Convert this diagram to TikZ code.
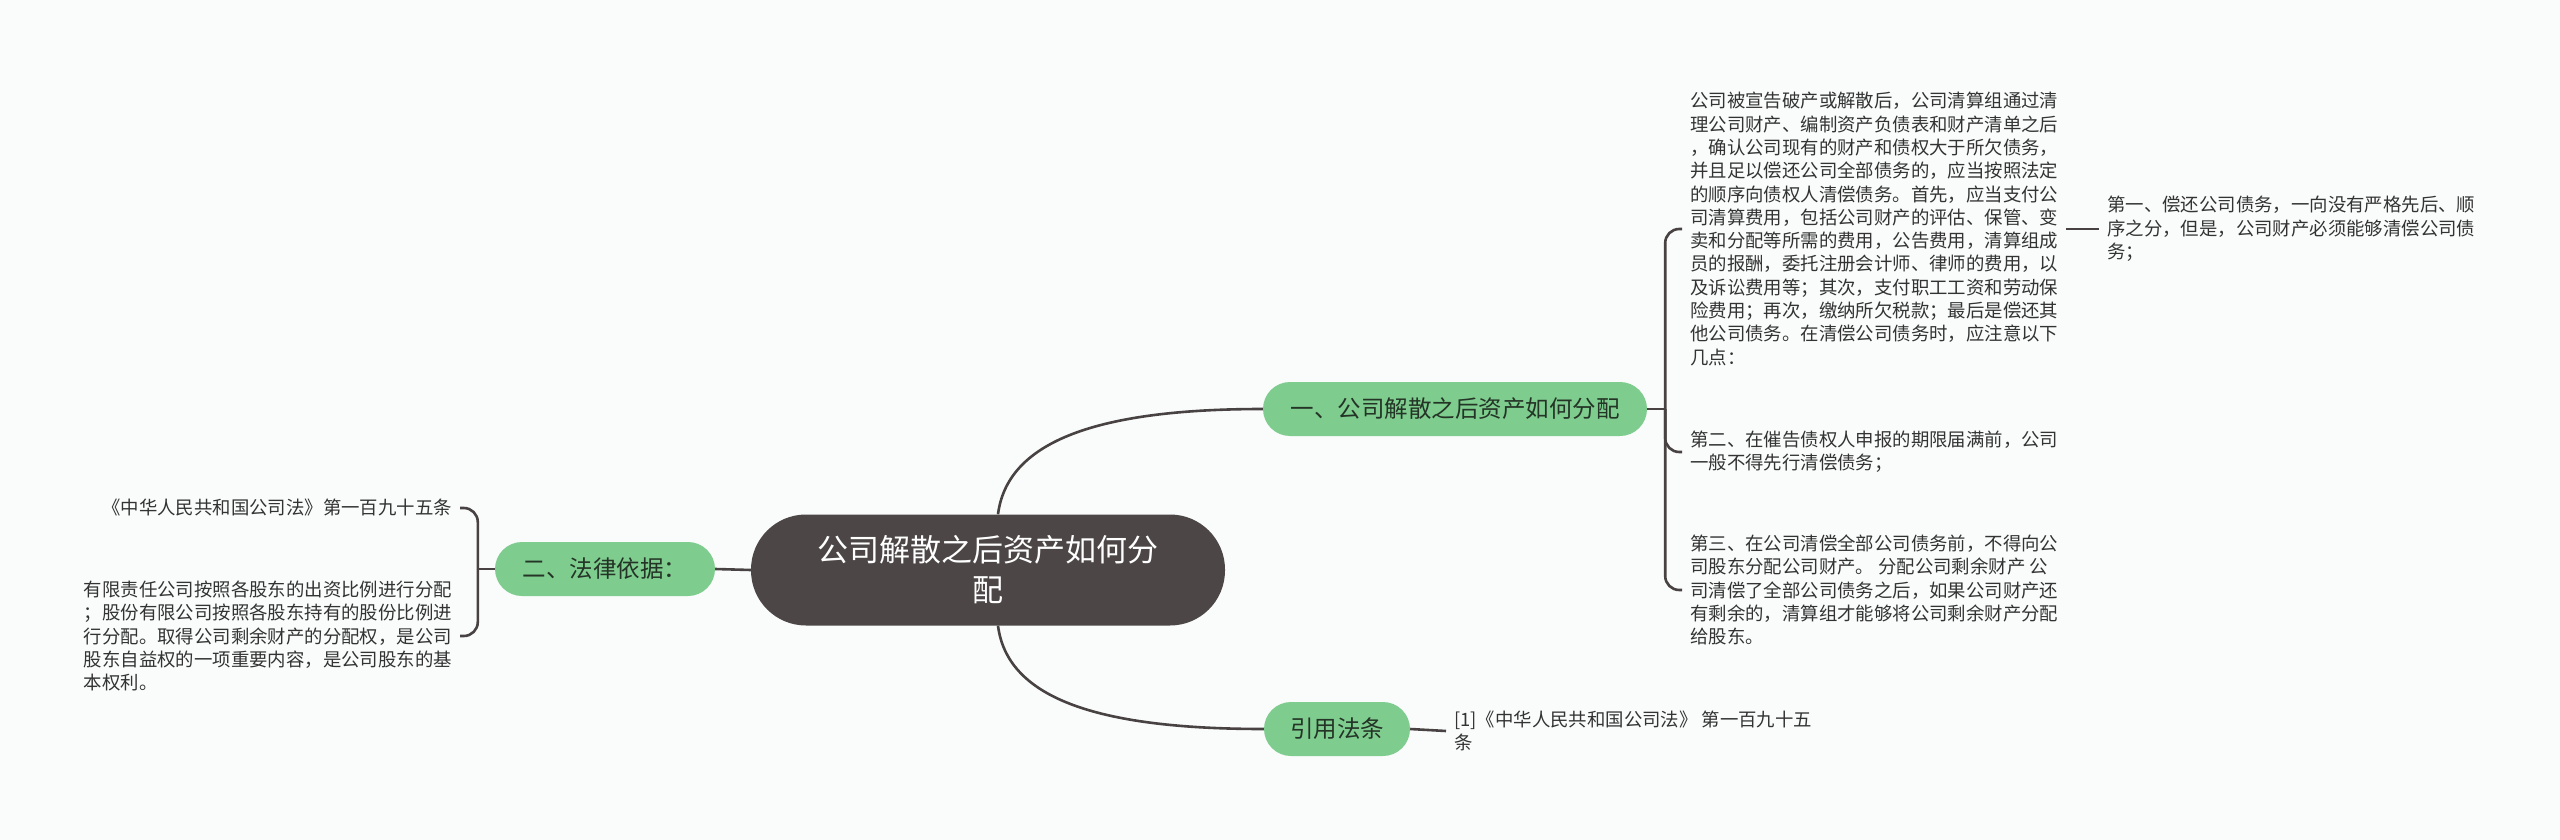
\documentclass[tikz,border=0pt]{standalone}
\usepackage{fontspec}
\setmainfont{Noto Sans CJK SC}

\definecolor{bgcol}{RGB}{250,252,252}
\definecolor{linecol}{RGB}{72,66,66}
\definecolor{rootcol}{RGB}{76,70,70}
\definecolor{greencol}{RGB}{126,204,142}
\definecolor{greentext}{RGB}{36,52,38}
\definecolor{leaftext}{RGB}{51,51,51}

\begin{document}
\begin{tikzpicture}[x=1pt, y=-1pt,
        edge/.style={draw=linecol, line width=2.6pt},
        root/.style={fill=rootcol, text=white, rounded corners=55pt, minimum width=474pt, minimum height=111pt, inner sep=0pt, align=center, font=\fontsize{31}{40}\selectfont},
        topic/.style={fill=greencol, text=greentext, rounded corners=27pt, minimum height=54pt, inner sep=0pt, font=\fontsize{23.5}{28}\selectfont},
        leaf/.style={text=leaftext, align=left, inner xsep=8pt, inner ysep=0pt, font=\fontsize{18.4}{23.3}\selectfont}]
        \def \Rx {1682};
        \def \Lx {460};

        % фон
        \useasboundingbox ( 0, 0 ) rectangle ( 2560, 840 );
        \fill [bgcol] ( 0, 0 ) rectangle ( 2560, 840 );

        % центр
        \node [root] (root) at ( 988, 570 ) {公司解散之后资产如何分\\配};

        % ветви
        \node [topic, minimum width=384pt] (t1) at ( 1455, 409 ) {一、公司解散之后资产如何分配};
        \node [topic, minimum width=220pt] (t2) at ( 605, 569 ) {二、法律依据：};
        \node [topic, minimum width=146pt] (t3) at ( 1337, 729 ) {引用法条};

        % листья справа
        \node [leaf, anchor=west] (l1) at ( \Rx, 229 ) {公司被宣告破产或解散后，公司清算组通过清\\
            理公司财产、编制资产负债表和财产清单之后\\
            ，确认公司现有的财产和债权大于所欠债务，\\
            并且足以偿还公司全部债务的，应当按照法定\\
            的顺序向债权人清偿债务。首先，应当支付公\\
            司清算费用，包括公司财产的评估、保管、变\\
            卖和分配等所需的费用，公告费用，清算组成\\
            员的报酬，委托注册会计师、律师的费用，以\\
            及诉讼费用等；其次，支付职工工资和劳动保\\
            险费用；再次，缴纳所欠税款；最后是偿还其\\
            他公司债务。在清偿公司债务时，应注意以下\\
            几点：};
        \node [leaf, anchor=west] (l1a) at ( 2099, 229 ) {第一、偿还公司债务，一向没有严格先后、顺\\
            序之分，但是，公司财产必须能够清偿公司债\\
            务；};
        \node [leaf, anchor=west] (l2) at ( \Rx, 452 ) {第二、在催告债权人申报的期限届满前，公司\\
            一般不得先行清偿债务；};
        \node [leaf, anchor=west] (l3) at ( \Rx, 590 ) {第三、在公司清偿全部公司债务前，不得向公\\
            司股东分配公司财产。 分配公司剩余财产 公\\
            司清偿了全部公司债务之后，如果公司财产还\\
            有剩余的，清算组才能够将公司剩余财产分配\\
            给股东。};
        \node [leaf, anchor=west] (cite) at ( 1446, 731 ) {[1]《中华人民共和国公司法》 第一百九十五\\条};

        % листья слева
        \node [leaf, anchor=east] (law1) at ( \Lx, 508 ) {《中华人民共和国公司法》第一百九十五条};
        \node [leaf, anchor=east] (law2) at ( \Lx, 636 ) {有限责任公司按照各股东的出资比例进行分配\\
            ；股份有限公司按照各股东持有的股份比例进\\
            行分配。取得公司剩余财产的分配权，是公司\\
            股东自益权的一项重要内容，是公司股东的基\\
            本权利。};

        % связи от центра
        \draw [edge] ([xshift=10pt]root.north) .. controls +(9,-70) and +(-173,0) .. (t1.west);
        \draw [edge] ([xshift=10pt]root.south) .. controls +(9,70) and +(-173,0) .. (t3.west);
        \draw [edge] (root.west) -- (t2.east);

        % скобка справа
        \draw [edge] (t1.east) -- ++(18,0) coordinate (t1r);
        \foreach \n in {l1,l2,l3}
            \draw [edge, rounded corners=14pt] (t1r) |- (\n.west);
        \draw [edge] (l1.east) -- (l1a.west);

        % скобка слева
        \draw [edge] (t2.west) -- ++(-17,0) coordinate (t2l);
        \foreach \n in {law1,law2}
            \draw [edge, rounded corners=14pt] (t2l) |- (\n.east);

        % ссылка
        \draw [edge] (t3.east) -- (cite.west);
    \end{tikzpicture}
\end{document}
